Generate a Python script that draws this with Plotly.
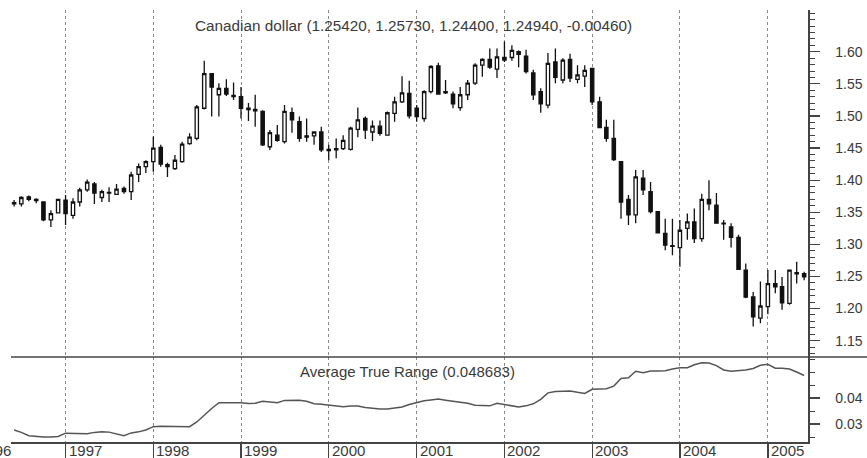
import plotly.graph_objects as go
import pandas as pd

# ---------------- data (monthly candles, Jun 1996 .. Jun 2005) ----------------
months = pd.date_range("1996-06-01", "2005-06-01", freq="MS")

opens = [
    1.365, 1.363, 1.374, 1.370, 1.366, 1.338, 1.349,
    1.369, 1.345, 1.366, 1.385, 1.394, 1.373, 1.380, 1.378, 1.387, 1.382, 1.409, 1.421,
    1.429, 1.451, 1.424, 1.418, 1.429, 1.457, 1.465, 1.512, 1.566, 1.533, 1.543, 1.532,
    1.530, 1.512, 1.510, 1.507, 1.452, 1.470, 1.460, 1.505, 1.491, 1.469, 1.469, 1.475,
    1.448, 1.447, 1.449, 1.448, 1.479, 1.496, 1.475, 1.484, 1.470, 1.504, 1.522, 1.535,
    1.512, 1.496, 1.538, 1.578, 1.536, 1.534, 1.513, 1.533, 1.551, 1.579, 1.588, 1.573,
    1.591, 1.591, 1.600, 1.593, 1.567, 1.538, 1.517, 1.584, 1.556, 1.588, 1.557, 1.562,
    1.574, 1.522, 1.482, 1.465, 1.429, 1.370, 1.346, 1.403, 1.382, 1.351, 1.317, 1.298,
    1.295, 1.325, 1.335, 1.309, 1.370, 1.361, 1.332, 1.327, 1.311, 1.260, 1.218, 1.185,
    1.203, 1.239, 1.234, 1.208, 1.256, 1.2542,
]
highs = [
    1.369, 1.375, 1.376, 1.372, 1.367, 1.353, 1.371,
    1.377, 1.372, 1.388, 1.401, 1.397, 1.385, 1.389, 1.394, 1.390, 1.413, 1.426, 1.431,
    1.468, 1.455, 1.427, 1.439, 1.460, 1.473, 1.517, 1.586, 1.567, 1.551, 1.557, 1.552,
    1.545, 1.520, 1.533, 1.509, 1.478, 1.486, 1.517, 1.513, 1.499, 1.496, 1.476, 1.483,
    1.455, 1.465, 1.470, 1.483, 1.513, 1.499, 1.493, 1.493, 1.507, 1.530, 1.562, 1.555,
    1.517, 1.540, 1.579, 1.583, 1.556, 1.538, 1.545, 1.556, 1.582, 1.590, 1.605, 1.605,
    1.616, 1.610, 1.602, 1.603, 1.572, 1.543, 1.598, 1.605, 1.590, 1.597, 1.579, 1.579,
    1.574, 1.530, 1.494, 1.494, 1.429, 1.377, 1.416, 1.416, 1.397, 1.351, 1.340, 1.340,
    1.338, 1.348, 1.356, 1.379, 1.400, 1.380, 1.338, 1.333, 1.315, 1.270, 1.226, 1.242,
    1.260, 1.260, 1.249, 1.260, 1.273, 1.2573,
]
lows = [
    1.359, 1.359, 1.367, 1.364, 1.336, 1.327, 1.348,
    1.330, 1.340, 1.359, 1.382, 1.363, 1.366, 1.366, 1.377, 1.379, 1.369, 1.397, 1.411,
    1.413, 1.421, 1.405, 1.416, 1.427, 1.455, 1.462, 1.510, 1.499, 1.499, 1.531, 1.525,
    1.496, 1.492, 1.483, 1.453, 1.447, 1.460, 1.457, 1.474, 1.460, 1.460, 1.455, 1.444,
    1.431, 1.434, 1.447, 1.446, 1.467, 1.464, 1.461, 1.469, 1.469, 1.491, 1.520, 1.496,
    1.491, 1.491, 1.535, 1.533, 1.534, 1.512, 1.508, 1.525, 1.548, 1.561, 1.573, 1.559,
    1.584, 1.586, 1.576, 1.566, 1.525, 1.505, 1.512, 1.551, 1.551, 1.553, 1.551, 1.545,
    1.517, 1.481, 1.460, 1.430, 1.340, 1.330, 1.333, 1.377, 1.348, 1.317, 1.291, 1.283,
    1.265, 1.307, 1.302, 1.304, 1.353, 1.333, 1.307, 1.295, 1.260, 1.216, 1.172, 1.177,
    1.191, 1.224, 1.198, 1.206, 1.239, 1.244,
]
closes = [
    1.363, 1.373, 1.370, 1.368, 1.338, 1.348, 1.370,
    1.348, 1.366, 1.385, 1.397, 1.380, 1.382, 1.381, 1.386, 1.382, 1.408, 1.421, 1.429,
    1.450, 1.425, 1.421, 1.431, 1.456, 1.467, 1.514, 1.566, 1.545, 1.543, 1.534, 1.530,
    1.512, 1.510, 1.508, 1.455, 1.474, 1.462, 1.507, 1.494, 1.465, 1.467, 1.475, 1.447,
    1.446, 1.449, 1.462, 1.481, 1.494, 1.478, 1.484, 1.473, 1.505, 1.522, 1.536, 1.500,
    1.499, 1.538, 1.577, 1.534, 1.538, 1.519, 1.533, 1.551, 1.579, 1.588, 1.576, 1.592,
    1.587, 1.602, 1.596, 1.569, 1.533, 1.519, 1.582, 1.560, 1.587, 1.559, 1.564, 1.571,
    1.522, 1.482, 1.465, 1.432, 1.366, 1.346, 1.405, 1.385, 1.351, 1.318, 1.299, 1.297,
    1.322, 1.335, 1.309, 1.370, 1.363, 1.333, 1.333, 1.311, 1.261, 1.218, 1.187, 1.204,
    1.239, 1.234, 1.209, 1.260, 1.254, 1.2494,
]
atr = [
    0.0277, 0.0268, 0.0255, 0.0251, 0.0250, 0.0250, 0.0252,
    0.0265, 0.0265, 0.0264, 0.0263, 0.0268, 0.0270, 0.0269, 0.0262, 0.0255, 0.0266, 0.0270, 0.0277,
    0.0290, 0.0292, 0.0291, 0.0290, 0.0289, 0.0290, 0.0308, 0.0335, 0.0360, 0.0382, 0.0382, 0.0383,
    0.0382, 0.0379, 0.0380, 0.0388, 0.0386, 0.0382, 0.0391, 0.0392, 0.0392, 0.0388, 0.0378, 0.0376,
    0.0373, 0.0370, 0.0367, 0.0369, 0.0369, 0.0364, 0.0360, 0.0358, 0.0358, 0.0361, 0.0366, 0.0375,
    0.0383, 0.0390, 0.0393, 0.0396, 0.0392, 0.0388, 0.0385, 0.0380, 0.0372, 0.0370, 0.0370, 0.0380,
    0.0376, 0.0370, 0.0366, 0.0370, 0.0378, 0.0395, 0.0420, 0.0425, 0.0426, 0.0427, 0.0422, 0.0418,
    0.0434, 0.0435, 0.0436, 0.0446, 0.0475, 0.0478, 0.0503, 0.0497, 0.0504, 0.0504, 0.0505, 0.0512,
    0.0517, 0.0517, 0.0528, 0.0536, 0.0535, 0.0525, 0.0508, 0.0503, 0.0506, 0.0508, 0.0514, 0.0526,
    0.0530, 0.0515, 0.0515, 0.0512, 0.0500, 0.0487,
]

year_ticks = ["1997-01-01", "1998-01-01", "1999-01-01", "2000-01-01", "2001-01-01",
              "2002-01-01", "2003-01-01", "2004-01-01", "2005-01-01"]
year_labels = ["1997", "1998", "1999", "2000", "2001", "2002", "2003", "2004", "2005"]
price_ticks = [1.15, 1.20, 1.25, 1.30, 1.35, 1.40, 1.45, 1.50, 1.55, 1.60]
atr_ticks = [0.03, 0.04]

title_text = "Canadian dollar (1.25420, 1.25730, 1.24400, 1.24940, -0.00460)"
atr_text = "Average True Range (0.048683)"

# ---------------- styling ----------------
FONT = "Liberation Sans, Arial, sans-serif"
TXT = "#3a3a3a"
AX = "#444444"
GRID = "#8a8a8a"
XRANGE = ["1996-05-19", "2005-06-17"]
SPLIT = 0.1968

fig = go.Figure()
fig.add_trace(go.Candlestick(
    x=months, open=opens, high=highs, low=lows, close=closes,
    xaxis="x", yaxis="y",
    increasing=dict(line=dict(color="#111111", width=1.3), fillcolor="#ffffff"),
    decreasing=dict(line=dict(color="#111111", width=1.3), fillcolor="#111111"),
    whiskerwidth=0, showlegend=False, hoverinfo="skip",
))
fig.add_trace(go.Scatter(
    x=months, y=atr, mode="lines", xaxis="x2", yaxis="y2",
    line=dict(color="#555555", width=1.5), showlegend=False, hoverinfo="skip",
))

common_x = dict(range=XRANGE, type="date", tickvals=year_ticks, showgrid=True,
                gridcolor=GRID, griddash="3px,3px", gridwidth=1, zeroline=False,
                automargin=False)
common_y = dict(side="right", ticks="outside", ticklen=10, tickwidth=1.3, tickcolor=AX,
                showline=True, linecolor=AX, linewidth=1.5, showgrid=False, zeroline=False,
                ticklabelstandoff=13, automargin=False,
                tickfont=dict(size=14, color=TXT, family=FONT))

year_annotations = [
    dict(text=lab, xref="x2", yref="paper", x=val, y=0, xanchor="left", yanchor="top",
         xshift=1, yshift=2, showarrow=False, font=dict(size=15, color=TXT, family=FONT))
    for val, lab in zip(year_ticks, year_labels)
]

fig.update_layout(
    width=867, height=458,
    margin=dict(l=11, r=59, t=10, b=16, autoexpand=False),
    paper_bgcolor="white", plot_bgcolor="white",
    font=dict(family=FONT, size=15, color=TXT),
    showlegend=False,
    xaxis=dict(**common_x, domain=[0, 1], anchor="y", showticklabels=False, ticks="",
               showline=False, rangeslider=dict(visible=False)),
    xaxis2=dict(**common_x, domain=[0, 1], anchor="y2", showticklabels=False,
                ticks="outside", ticklen=16, tickwidth=1.3, tickcolor=AX,
                showline=True, linecolor=AX, linewidth=1.5),
    yaxis=dict(**common_y, domain=[SPLIT, 1], anchor="x", range=[1.1246, 1.665],
               tickvals=price_ticks, ticktext=[f"{v:.2f}" for v in price_ticks],
               minor=dict(tick0=0, dtick=0.01, ticks="outside", ticklen=5, tickwidth=1, tickcolor=AX)),
    yaxis2=dict(**common_y, domain=[0, SPLIT], anchor="x2", range=[0.0231, 0.0558],
                tickvals=atr_ticks, ticktext=[f"{v:.2f}" for v in atr_ticks],
                minor=dict(tick0=0, dtick=0.005, ticks="outside", ticklen=5, tickwidth=1, tickcolor=AX)),
    shapes=[dict(type="line", xref="paper", yref="paper", x0=0, x1=1.075, y0=SPLIT, y1=SPLIT,
                 line=dict(color=AX, width=1.5))],
    annotations=[
        dict(text=title_text, xref="paper", yref="paper", x=0.5056, y=0.963,
             xanchor="center", yanchor="middle", showarrow=False,
             font=dict(size=15.3, color=TXT, family=FONT)),
        dict(text=atr_text, xref="paper", yref="paper", x=0.498, y=0.164,
             xanchor="center", yanchor="middle", showarrow=False,
             font=dict(size=15, color=TXT, family=FONT)),
        dict(text="1996", xref="paper", yref="paper", x=0.0025, y=0, yshift=2,
             xanchor="right", yanchor="top", showarrow=False,
             font=dict(size=15, color=TXT, family=FONT)),
    ] + year_annotations,
)

fig.write_html(
    "out.html",
    config={"displayModeBar": False, "staticPlot": True},
    post_script="document.body.style.margin='0px';document.body.style.overflow='hidden';",
)
